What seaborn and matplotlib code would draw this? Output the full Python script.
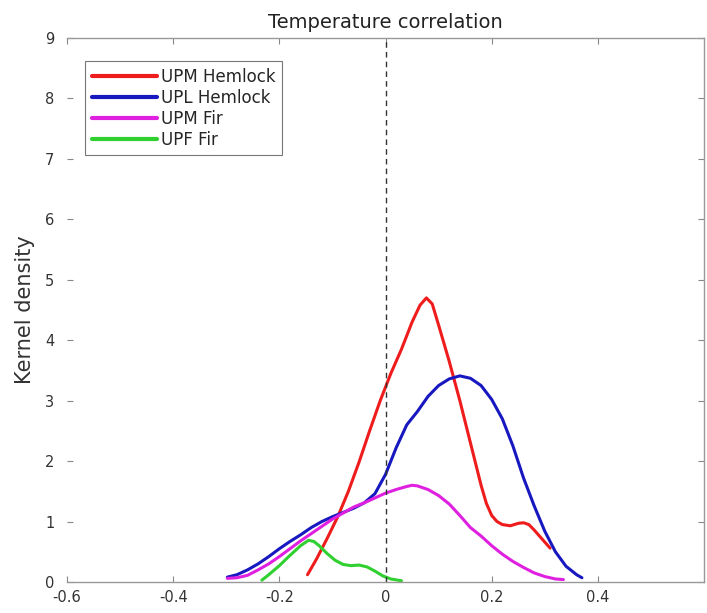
import pandas as pd
import matplotlib
matplotlib.use('Agg')
import matplotlib.pyplot as plt
import seaborn as sns

# Kernel density curves
upm_hemlock_x = [-0.147, -0.13, -0.11, -0.09, -0.07, -0.05, -0.03, -0.01, 0.01, 0.03,
                 0.05, 0.065, 0.077, 0.088, 0.10, 0.12, 0.14, 0.16, 0.18, 0.19,
                 0.20, 0.21, 0.22, 0.235, 0.25, 0.26, 0.27, 0.28, 0.29, 0.30, 0.31]
upm_hemlock_y = [0.12, 0.38, 0.72, 1.08, 1.50, 1.98, 2.50, 3.00, 3.45, 3.85,
                 4.30, 4.58, 4.70, 4.60, 4.25, 3.65, 3.00, 2.30, 1.60, 1.30,
                 1.10, 1.00, 0.95, 0.93, 0.97, 0.98, 0.95, 0.86, 0.76, 0.66, 0.56]

upl_hemlock_x = [-0.298, -0.28, -0.26, -0.24, -0.22, -0.20, -0.18, -0.16, -0.14, -0.12,
                 -0.10, -0.08, -0.06, -0.04, -0.02, 0.00, 0.02, 0.04, 0.06, 0.08,
                 0.10, 0.12, 0.14, 0.16, 0.18, 0.20, 0.22, 0.24, 0.26, 0.28,
                 0.30, 0.32, 0.34, 0.36, 0.37]
upl_hemlock_y = [0.08, 0.12, 0.20, 0.30, 0.42, 0.55, 0.67, 0.78, 0.90, 1.00,
                 1.08, 1.15, 1.22, 1.31, 1.46, 1.78, 2.22, 2.60, 2.82, 3.07,
                 3.25, 3.36, 3.41, 3.37, 3.25, 3.02, 2.70, 2.25, 1.72, 1.26,
                 0.84, 0.50, 0.26, 0.12, 0.07]

upm_fir_x = [-0.298, -0.28, -0.26, -0.24, -0.22, -0.20, -0.18, -0.16, -0.14, -0.12,
             -0.10, -0.08, -0.06, -0.04, -0.02, 0.00, 0.02, 0.04, 0.05, 0.06,
             0.08, 0.10, 0.12, 0.14, 0.16, 0.18, 0.20, 0.22, 0.24, 0.26,
             0.28, 0.30, 0.32, 0.335]
upm_fir_y = [0.06, 0.07, 0.11, 0.20, 0.30, 0.42, 0.55, 0.68, 0.80, 0.92,
             1.04, 1.14, 1.24, 1.31, 1.39, 1.47, 1.53, 1.58, 1.60, 1.59,
             1.53, 1.43, 1.29, 1.10, 0.90, 0.76, 0.60, 0.46, 0.34, 0.24,
             0.15, 0.09, 0.05, 0.04]

upf_fir_x = [-0.233, -0.22, -0.20, -0.18, -0.16, -0.145, -0.135, -0.125, -0.11, -0.095,
             -0.08, -0.065, -0.05, -0.035, -0.02, -0.005, 0.01, 0.03]
upf_fir_y = [0.03, 0.12, 0.27, 0.44, 0.60, 0.69, 0.67, 0.60, 0.47, 0.36,
             0.29, 0.27, 0.28, 0.25, 0.18, 0.10, 0.05, 0.02]

series_names = ['UPM Hemlock', 'UPL Hemlock', 'UPM Fir', 'UPF Fir']
series_colors = ['#ee1c1c', '#1818c0', '#e020e0', '#30d030']

frames = []
for name, xs, ys in zip(series_names,
                        [upm_hemlock_x, upl_hemlock_x, upm_fir_x, upf_fir_x],
                        [upm_hemlock_y, upl_hemlock_y, upm_fir_y, upf_fir_y]):
    frames.append(pd.DataFrame({'corr': xs, 'density': ys, 'site': name}))
data = pd.concat(frames, ignore_index=True)

sns.set_style('white')
plt.rcParams['font.family'] = ['DejaVu Sans']

fig = plt.figure(figsize=(7.07, 6.13), dpi=100)
ax = fig.add_axes([0.0948, 0.0506, 0.901, 0.8874])

sns.lineplot(data=data, x='corr', y='density', hue='site', hue_order=series_names,
             palette=series_colors, sort=False, estimator=None, linewidth=2.2, ax=ax)

# zero line
ax.axvline(0, color='#333333', linestyle=(0, (4, 3)), linewidth=1.0)

ax.set_xlim(-0.6, 0.6)
ax.set_ylim(0, 9)
ax.set_xticks([-0.6, -0.4, -0.2, 0, 0.2, 0.4])
ax.set_xticklabels(['-0.6', '-0.4', '-0.2', '0', '0.2', '0.4'])
ax.set_yticks(range(0, 10))
ax.tick_params(direction='in', length=4, width=0.8, color='#888888',
               labelsize=10.5, labelcolor='#333333', top=True, right=True,
               bottom=True, left=True)
ax.tick_params(axis='x', pad=6)
ax.tick_params(axis='y', pad=9)

for side, sp in ax.spines.items():
    sp.set_color('#999999')
    sp.set_linewidth(1.0)
ax.spines['left'].set_visible(False)

ax.set_title('Temperature correlation', fontsize=14, color='#222222', pad=7)
ax.set_xlabel('')
ax.set_ylabel('Kernel density', fontsize=15, color='#333333')
ax.yaxis.set_label_coords(-0.050, 0.5)

leg = ax.legend(loc='upper left', bbox_to_anchor=(0.028, 0.958), borderaxespad=0,
                frameon=True, fancybox=False, fontsize=12, handlelength=3.9,
                handletextpad=0.25, labelspacing=0.18, borderpad=0.4)
leg.get_frame().set_edgecolor('#555555')
leg.get_frame().set_linewidth(0.8)
for line in leg.get_lines():
    line.set_linewidth(3)

fig.savefig('out.png', dpi=100)
